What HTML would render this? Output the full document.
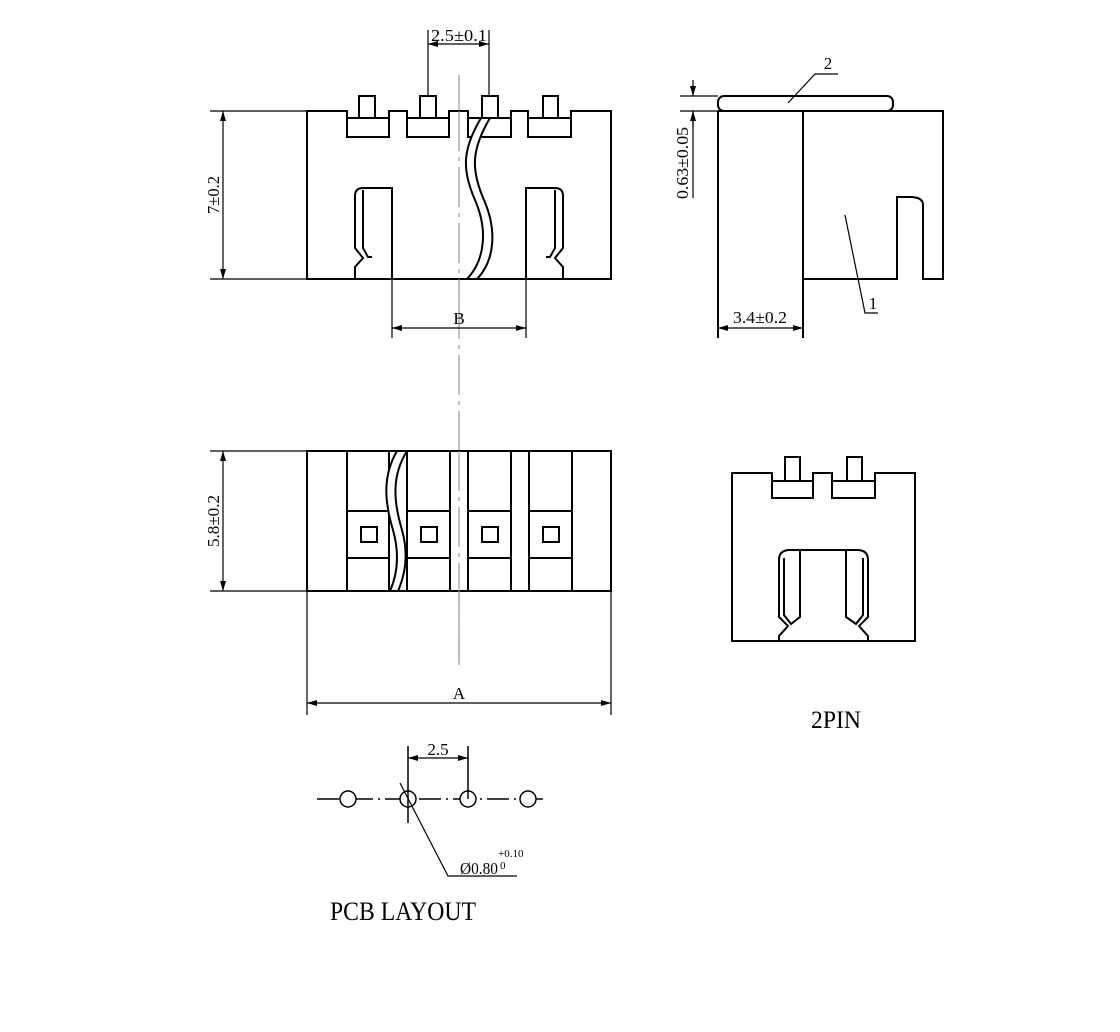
<!DOCTYPE html>
<html><head><meta charset="utf-8"><style>
html,body{margin:0;padding:0;background:#fff;}
svg{display:block;}
text{font-family:"Liberation Serif",serif;fill:#000;}
</style></head><body>
<svg width="1120" height="1032" viewBox="0 0 1120 1032" xmlns="http://www.w3.org/2000/svg">
<defs>
<marker id="ar" viewBox="0 0 10 6" refX="10" refY="3" markerWidth="10" markerHeight="6" orient="auto-start-reverse" markerUnits="userSpaceOnUse"><path d="M0,0 L10,3 L0,6 Z" fill="#000"/></marker>
</defs>
<line x1="459" y1="75" x2="459" y2="665" stroke="#999" stroke-width="1.2" stroke-dasharray="40,6,4,6"/>

<g fill="none" stroke="#000" stroke-width="2">
<path d="M307,111 H347 V137 H389 V111 H407 V137 H449 V111 H468 V137 H511 V111 H528 V137 H571 V111 H611 V279 H307 Z" fill="#fff"/>
<path d="M347,118 H389 M407,118 H449 M468,118 H511 M528,118 H571"/>
<path d="M359,118 V96 H375 V118 M420,118 V96 H436 V118 M482,118 V96 H498 V118 M543,118 V96 H558 V118"/>
<path d="M392,279 V188 H363 Q355,188 355,196 V248 L363,258 L355,267 V279"/>
<path d="M363,190 V248 L368,257 L372,257"/>
<path d="M526,279 V188 H555 Q563,188 563,196 V248 L555,258 L563,267 V279"/>
<path d="M555,190 V248 L550,257 L546,257"/>
<path d="M481,118 C462,150 462,170 475,200 C488,230 485,260 467,279 L477,279 C495,260 497,230 484,200 C471,170 471,150 490,118 Z" fill="#fff"/>
</g>
<line x1="459" y1="111" x2="459" y2="300" stroke="#999" stroke-width="1.2" stroke-dasharray="40,6,4,6"/>

<g fill="none" stroke="#000" stroke-width="1.2">
<path d="M428,96 V30 M489,96 V30"/>
<line x1="428" y1="44" x2="489" y2="44" marker-start="url(#ar)" marker-end="url(#ar)"/>
<path d="M210,111 H307 M210,279 H307"/>
<line x1="223" y1="111" x2="223" y2="279" marker-start="url(#ar)" marker-end="url(#ar)"/>
<path d="M392,279 V338 M526,279 V338"/>
<line x1="392" y1="328" x2="526" y2="328" marker-start="url(#ar)" marker-end="url(#ar)"/>
</g>
<text x="459" y="41" font-size="17" text-anchor="middle" textLength="56" lengthAdjust="spacingAndGlyphs">2.5±0.1</text>
<text transform="translate(219,195) rotate(-90)" font-size="17" text-anchor="middle" textLength="38" lengthAdjust="spacingAndGlyphs">7±0.2</text>
<text x="459" y="324" font-size="17" text-anchor="middle">B</text>

<g fill="none" stroke="#000" stroke-width="2">
<path d="M718,111 V338 M803,111 V338"/>
<path d="M718,111 H943 V279 H923 V205 Q923,197 910,197 H897 V279 H803"/>
<rect x="718" y="96" width="175" height="15" rx="6" fill="#fff"/>
</g>
<g fill="none" stroke="#000" stroke-width="1.2">
<path d="M788,103 L815,74 H838"/>
<path d="M845,215 L865,313 H878"/>
<path d="M680,96 H718 M680,111 H718"/>
<path d="M693,111 V198"/>
<line x1="693" y1="80" x2="693" y2="96" marker-end="url(#ar)"/>
<line x1="693" y1="127" x2="693" y2="111" marker-end="url(#ar)"/>
<line x1="718" y1="328" x2="803" y2="328" marker-start="url(#ar)" marker-end="url(#ar)"/>
</g>
<text x="828" y="69" font-size="17" text-anchor="middle">2</text>
<text x="873" y="309" font-size="17" text-anchor="middle">1</text>
<text transform="translate(688,163) rotate(-90)" font-size="17" text-anchor="middle" textLength="72" lengthAdjust="spacingAndGlyphs">0.63±0.05</text>
<text x="760" y="323" font-size="17" text-anchor="middle" textLength="54" lengthAdjust="spacingAndGlyphs">3.4±0.2</text>

<g fill="none" stroke="#000" stroke-width="2">
<rect x="307" y="451" width="304" height="140" fill="#fff"/>
<path d="M347,451 V591 M389,451 V591 M407,451 V591 M450,451 V591 M468,451 V591 M511,451 V591 M529,451 V591 M572,451 V591"/>
<path d="M347,511 H389 M347,558 H389 M407,511 H450 M407,558 H450 M468,511 H511 M468,558 H511 M529,511 H572 M529,558 H572"/>
<rect x="361" y="527" width="16" height="15"/>
<rect x="421" y="527" width="16" height="15"/>
<rect x="482" y="527" width="16" height="15"/>
<rect x="543" y="527" width="16" height="15"/>
<path d="M397,451 C383,475 384,500 393,530 C400,555 397,575 390,591 L398,591 C405,575 409,555 402,530 C393,500 392,475 407,451 Z" fill="#fff"/>
</g>
<line x1="459" y1="451" x2="459" y2="665" stroke="#999" stroke-width="1.2" stroke-dasharray="40,6,4,6"/>
<g fill="none" stroke="#000" stroke-width="1.2">
<path d="M210,451 H307 M210,591 H307"/>
<line x1="223" y1="451" x2="223" y2="591" marker-start="url(#ar)" marker-end="url(#ar)"/>
<path d="M307,591 V715 M611,591 V715"/>
<line x1="307" y1="703" x2="611" y2="703" marker-start="url(#ar)" marker-end="url(#ar)"/>
</g>
<text transform="translate(219,521) rotate(-90)" font-size="17" text-anchor="middle" textLength="52" lengthAdjust="spacingAndGlyphs">5.8±0.2</text>
<text x="459" y="699" font-size="17" text-anchor="middle">A</text>

<g fill="none" stroke="#000" stroke-width="2">
<path d="M732,473 H772 V498 H813 V473 H832 V498 H875 V473 H915 V641 H732 Z"/>
<path d="M772,481 H813 M832,481 H875"/>
<path d="M785,481 V457 H800 V481 M847,481 V457 H862 V481"/>
<path d="M779,641 V636 L788,626 L779,617 V560 Q779,550 790,550 H857 Q868,550 868,560 V617 L859,626 L868,636 V641"/>
<path d="M784,558 V615 L791,624 L800,617 V551 M863,558 V615 L856,624 L846,617 V551"/>
</g>
<text x="836" y="728" font-size="25" text-anchor="middle" textLength="50" lengthAdjust="spacingAndGlyphs">2PIN</text>

<g fill="none" stroke="#000" stroke-width="1.5">
<line x1="317" y1="799" x2="548" y2="799" stroke-dasharray="22,5,2,5"/>
<circle cx="348" cy="799" r="8" fill="#fff"/>
<circle cx="408" cy="799" r="8" fill="#fff"/>
<circle cx="468" cy="799" r="8" fill="#fff"/>
<circle cx="528" cy="799" r="8" fill="#fff"/>
<path d="M408,746 V823 M468,746 V799"/>
<line x1="408" y1="758" x2="468" y2="758" stroke-width="1.2" marker-start="url(#ar)" marker-end="url(#ar)"/>
<path d="M400,783 L448,876 H517" stroke-width="1.2"/>
</g>
<text x="438" y="755" font-size="17" text-anchor="middle">2.5</text>
<text x="460" y="874" font-size="17" textLength="38" lengthAdjust="spacingAndGlyphs">Ø0.80</text>
<text x="498" y="857" font-size="11">+0.10</text>
<text x="500" y="869" font-size="11">0</text>
<text x="330" y="920" font-size="26" textLength="146" lengthAdjust="spacingAndGlyphs">PCB LAYOUT</text>
</svg>
</body></html>
